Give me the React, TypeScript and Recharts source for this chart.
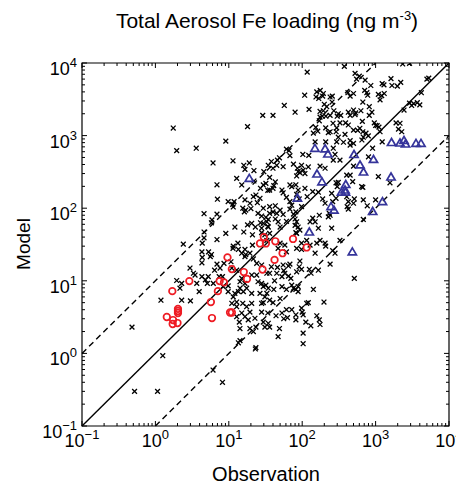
import React from "react";
import {
  ScatterChart,
  Scatter,
  XAxis,
  YAxis,
  ReferenceLine,
  ReferenceArea,
} from "recharts";

// [observation, model] in ng m-3
const blackPoints: [number, number][] = [
  [29, 1900], [1.75, 1270], [18, 1330], [1.95, 620], [3.6, 670], [9.1, 840], [6.1, 420], [11.4, 450],
  [16, 390], [19, 420], [22, 330], [6.9, 210], [32, 220], [27, 188], [34, 176], [7.0, 133], [9.8, 123],
  [11.8, 123], [11.5, 104], [24.5, 119], [16.3, 89], [17, 94], [20, 99], [4.6, 84], [6.9, 83], [5.9, 69],
  [32, 75], [18, 59], [20.5, 62], [27, 63], [29.5, 62], [12.1, 55], [9.1, 45], [6.9, 37], [4.6, 39],
  [4.35, 33], [2.4, 32], [16, 47], [21, 43], [23, 55], [28, 46], [34, 56],
  [117, 7500], [158, 4000], [176, 4200], [194, 3800], [190, 3500], [108, 3600], [57, 2600], [40, 1900],
  [80, 2100], [124, 2300], [175, 2150], [200, 2700], [194, 2200], [175, 1800], [188, 1850], [210, 1850],
  [153, 1300], [163, 1150], [142, 1080], [209, 1280], [227, 1100], [150, 820], [209, 820], [61, 650],
  [66, 620], [68, 530], [102, 550], [123, 535], [49, 495],
  [375, 9000], [2340, 9700], [2900, 9900], [525, 7200], [600, 6600], [550, 6000], [720, 5800],
  [1230, 5200], [1300, 5000], [1620, 6100], [1670, 4900], [2200, 5400], [860, 4900], [5000, 6000],
  [5300, 6200], [420, 3900], [500, 3800], [450, 3500], [257, 3500], [710, 4200], [760, 3900],
  [780, 3600], [1090, 3700], [1210, 3550], [1310, 3800], [1150, 3100], [4200, 3900], [670, 2900],
  [255, 2900], [2900, 2800], [3300, 2750], [3700, 2850], [270, 2200], [310, 2000], [335, 1900],
  [300, 1850], [425, 2100], [500, 2250], [535, 2050], [450, 1900], [525, 1950], [630, 2200], [820, 2500],
  [890, 2100], [820, 1900], [660, 1570], [263, 1480], [327, 1500], [390, 1500], [425, 1400], [960, 1500],
  [1000, 1380], [1900, 1500], [2150, 1480], [2050, 1230], [2270, 1130], [500, 1190], [570, 1180],
  [610, 1260], [670, 1130], [740, 1080], [795, 990], [680, 950], [650, 870], [1050, 1370], [1110, 1310],
  [1150, 1130], [240, 1130], [290, 1130], [310, 950], [295, 820], [365, 810], [450, 850], [500, 780],
  [450, 740], [265, 670], [280, 550], [910, 670], [1230, 820], [800, 510], [1980, 4800], [3100, 2600],
  [4000, 2650], [2440, 2250],
  [154, 3400], [168, 3250], [240, 3400], [216, 2500], [240, 1900], [171, 1600], [383, 1040], [295, 1280],
  [46, 460], [98, 390], [121, 370], [86, 355], [103, 335], [88, 318], [38, 440], [45, 390], [40, 355],
  [30, 318], [43, 230], [36, 178], [41, 205], [53, 178], [72, 198], [82, 210], [88, 178], [84, 155],
  [91, 134], [72, 110], [68, 97], [98, 105], [82, 89], [43, 108], [40, 89], [50, 94], [55, 82], [61, 66],
  [47, 65], [33, 65], [28, 53], [31, 43], [166, 166], [190, 134], [205, 117], [139, 73], [128, 65],
  [166, 53], [227, 76], [234, 85], [260, 123], [289, 137], [310, 227], [300, 198], [404, 144], [425, 123],
  [410, 105], [513, 134], [500, 117], [646, 198], [1090, 272],
  [16.6, 343], [34.5, 390], [55, 373], [12.8, 258], [22, 237], [15, 209], [40, 188], [55, 163],
  [29.5, 209], [36, 266], [76, 405], [93, 309], [109, 300], [84, 278], [68, 209], [109, 188], [139, 169],
  [117, 144], [68, 123], [61, 141], [175, 380], [205, 355], [16.6, 130], [19.4, 117], [15.5, 100],
  [21.6, 144], [26.6, 137], [23.4, 152], [29.5, 100], [36, 105], [36, 85], [43, 71], [34.5, 70], [28, 78],
  [25, 85], [45, 85], [50, 55], [76, 83], [80, 71], [84, 65], [80, 58], [88, 55], [93, 50], [84, 45],
  [150, 65], [171, 80], [11.5, 30], [13.5, 27], [16.6, 27], [17, 23], [19.4, 24], [34.5, 55], [36, 45],
  [33, 36], [84, 28], [98, 27], [158, 33], [175, 36], [205, 33], [50, 33], [58, 31], [47, 28], [61, 25],
  [265, 460], [327, 460], [500, 380], [404, 286], [450, 286], [487, 232], [289, 224], [670, 194],
  [1570, 224], [252, 160], [425, 97], [680, 130], [770, 108], [1000, 130], [252, 53], [680, 70], [327, 36],
  [260, 26], [280, 24], [240, 80],
  [82, 46], [98, 33], [115, 36], [128, 31], [150, 24], [209, 30], [240, 17], [166, 14], [125, 14.4],
  [132, 12.7], [68, 17], [93, 18.7], [91, 15.6], [98, 14.4], [84, 13.3], [55, 16.5], [56, 13.8], [58, 12.7],
  [53, 11.4], [45, 12.7], [46, 15.3], [38, 15.6], [36, 12.7], [65, 11.6], [70, 10.8], [76, 7.9], [82, 7.6],
  [88, 8.3], [53, 8.3], [61, 7.6], [41, 7.6], [42, 10], [32, 8.7], [142, 7.6], [121, 5.0], [198, 5.1],
  [29.5, 5], [28, 3.7], [34, 3.6], [44, 3.3], [53, 3.6], [61, 4.0], [56, 3.0], [63, 3.1], [82, 3.4],
  [82, 2.9], [100, 3.7], [103, 3.4], [112, 2.7], [131, 2.4], [158, 3.3], [171, 2.9], [36, 2.3], [49, 2.2],
  [47, 1.7], [103, 1.36], [513, 10.8],
  [11, 15], [12.8, 14], [15, 10.8], [14.2, 9.7], [16.6, 9.2], [17.5, 7.9], [15.8, 7.1], [13.5, 7.1],
  [12.1, 6.7], [24, 17.4], [28, 16.5], [33, 12.7], [24, 12], [20.5, 12], [25, 9.7], [28, 9.2], [29.5, 8.3],
  [34.5, 7.9], [33, 6.7], [26.6, 6.7], [20.5, 6.7], [12.8, 5.1], [11, 4.9], [15.5, 4.9], [17.5, 4.4],
  [20.5, 4.9], [28, 4.9], [19.4, 3.7], [15, 3.6], [16.6, 3.2], [12.8, 3.2], [18.4, 2.9], [22.7, 3.05],
  [29.5, 2.7], [34.5, 2.6], [13.9, 2.7], [14.2, 2.2], [19.4, 2.2], [21.6, 2.0], [23.4, 2.3], [14.2, 1.5],
  [13.5, 1.4], [23.4, 1.2], [65, 16], [36, 5.4], [40, 5.0], [50, 5.7], [72, 4.0], [98, 4.2], [115, 4.9],
  [72, 8.7], [88, 7.1], [175, 2.5], [103, 1.9],
  [4.6, 47], [21, 31], [5.3, 25], [5.8, 23], [4.35, 21], [6.9, 17], [8.6, 17.4], [11.4, 28], [15, 24],
  [16.6, 21.5], [21.6, 20], [3.3, 12.7], [4.3, 11.4], [4.8, 10.3], [5.1, 9.2], [6.4, 14], [7.4, 11.4],
  [3.66, 9.2], [3.95, 7.1], [1.95, 10.1], [2.28, 9.2], [1.19, 5.4], [2.28, 5.4], [3.0, 5.3], [0.48, 2.3],
  [1.26, 0.93], [0.52, 0.3], [1.07, 0.3], [8.2, 0.4], [6.1, 0.59], [23, 1.15], [8.4, 8.3], [9.8, 7.1],
  [11.5, 6.0], [14.2, 7.9], [31, 6.0], [12.8, 4.4], [31, 2.3],
  [11.3, 113], [5.8, 63], [4.3, 25], [5.6, 21.5], [13.3, 33], [10.7, 18.3], [2.96, 15], [4.3, 17.7],
  [3.47, 12], [5.25, 11.4], [6.15, 9.2], [7.6, 15], [8.2, 11.4], [9.8, 8.5], [2.16, 7.9],
];

const redPoints: [number, number][] = [
  [30, 40], [26.6, 32.7], [32, 32.7], [43, 35], [75, 37.7], [115, 28.8], [54, 24], [42, 19.4],
  [28.8, 14.3], [9.6, 21], [11, 14.5], [16, 13.2], [17.7, 10.6], [2.9, 9.9], [7.5, 9.9], [8.6, 9.5],
  [1.7, 7.2], [7.1, 7.2], [5.7, 5.1], [2.03, 4.1], [2.03, 3.84], [2.03, 3.6], [10.4, 3.66], [11, 3.66],
  [1.43, 3.17], [5.9, 3.07], [1.74, 2.88], [2.0, 2.62], [1.72, 2.54],
];

const bluePoints: [number, number][] = [
  [19, 258], [149, 668], [205, 658], [224, 558], [508, 549], [936, 469], [613, 394], [684, 315],
  [159, 296], [186, 230], [1622, 269], [1648, 803], [2150, 791], [2438, 857], [2555, 766], [3550, 783],
  [4155, 783], [392, 212], [383, 178], [343, 166], [389, 166], [86, 138], [247, 105], [271, 94],
  [1241, 123], [912, 90], [125, 47], [482, 25],
];

const majorTicks = [0.1, 1, 10, 100, 1000, 10000];
const tickExponents = ["\u22121", "0", "1", "2", "3", "4"];

// 1:1, 10:1 and 1:10 guide lines
const oneToOne = [{ x: 0.1, y: 0.1 }, { x: 10000, y: 10000 }];
const tenAbove = [{ x: 0.1, y: 1 }, { x: 1000, y: 10000 }];
const tenBelow = [{ x: 1, y: 0.1 }, { x: 10000, y: 1000 }];

const allTicks: number[] = [];
majorTicks.forEach((d, i) => {
  allTicks.push(d);
  if (i < majorTicks.length - 1) {
    for (let m = 2; m <= 9; m++) allTicks.push(Number((d * m).toPrecision(3)));
  }
});

const toRows = (pts: [number, number][]) => pts.map(([obs, model]) => ({ obs, model }));

const FONT = "'Liberation Sans', Arial, Helvetica, sans-serif";
const PLOT_LEFT = 74;
const PLOT_TOP = 55;
const PLOT_RIGHT = 441;
const PLOT_BOTTOM = 418;

const XTick = (props: any) => {
  const { x, payload } = props;
  const idx = majorTicks.indexOf(payload.value);
  const len = idx >= 0 ? 5 : 3;
  return (
    <g>
      <line x1={x} x2={x} y1={PLOT_BOTTOM} y2={PLOT_BOTTOM - len} stroke="#000" />
      <line x1={x} x2={x} y1={PLOT_TOP} y2={PLOT_TOP + len} stroke="#000" />
      {idx >= 0 && (
        <text x={x} y={PLOT_BOTTOM + 21} textAnchor="middle" fontSize={18} fontFamily={FONT} fill="#000">
          10
          <tspan dy={-8} fontSize={13}>{tickExponents[idx]}</tspan>
        </text>
      )}
    </g>
  );
};

const YTick = (props: any) => {
  const { y, payload } = props;
  const idx = majorTicks.indexOf(payload.value);
  const len = idx >= 0 ? 5 : 3;
  return (
    <g>
      <line x1={PLOT_LEFT} x2={PLOT_LEFT + len} y1={y} y2={y} stroke="#000" />
      <line x1={PLOT_RIGHT} x2={PLOT_RIGHT - len} y1={y} y2={y} stroke="#000" />
      {idx >= 0 && (
        <text x={PLOT_LEFT - 5} y={y + 12} textAnchor="end" fontSize={18} fontFamily={FONT} fill="#000">
          10
          <tspan dy={-8} fontSize={13}>{tickExponents[idx]}</tspan>
        </text>
      )}
    </g>
  );
};

const Cross = (props: any) => {
  const { cx, cy } = props;
  const s = 2.4;
  return (
    <path
      d={`M${cx - s},${cy - s}L${cx + s},${cy + s}M${cx - s},${cy + s}L${cx + s},${cy - s}`}
      stroke="#000"
      strokeWidth={1.3}
      fill="none"
    />
  );
};

const Circle = (props: any) => (
  <circle cx={props.cx} cy={props.cy} r={3.3} stroke="#ee1c24" strokeWidth={1.7} fill="none" />
);

const Triangle = (props: any) => {
  const { cx, cy } = props;
  return (
    <path
      d={`M${cx},${cy - 4}L${cx + 4.1},${cy + 3}L${cx - 4.1},${cy + 3}Z`}
      stroke="#35349a"
      strokeWidth={1.7}
      fill="none"
    />
  );
};

export default function App() {
  return (
    <div style={{ position: "relative", width: 456, height: 476 }}>
      <ScatterChart
        width={456}
        height={470}
        margin={{ top: 55, right: 15, bottom: 22, left: 14 }}
      >
        <XAxis
          type="number"
          dataKey="obs"
          scale="log"
          domain={[0.1, 10000]}
          allowDataOverflow
          ticks={allTicks}
          interval={0}
          tick={<XTick />}
          tickLine={false}
          axisLine={false}
          height={30}
        />
        <YAxis
          type="number"
          dataKey="model"
          scale="log"
          domain={[0.1, 10000]}
          allowDataOverflow
          ticks={allTicks}
          interval={0}
          tick={<YTick />}
          tickLine={false}
          axisLine={false}
          width={60}
        />
        <ReferenceArea x1={0.1} x2={10000} y1={0.1} y2={10000} fill="none" stroke="#000" strokeWidth={1.2} />
        <Scatter data={toRows(blackPoints)} shape={<Cross />} isAnimationActive={false} />
        <Scatter data={toRows(redPoints)} shape={<Circle />} isAnimationActive={false} />
        <Scatter data={toRows(bluePoints)} shape={<Triangle />} isAnimationActive={false} />
        <ReferenceLine segment={oneToOne} stroke="#000" strokeWidth={1.4} />
        <ReferenceLine segment={tenAbove} stroke="#000" strokeWidth={1.4} strokeDasharray="6 4" />
        <ReferenceLine segment={tenBelow} stroke="#000" strokeWidth={1.4} strokeDasharray="6 4" />
      </ScatterChart>
      <svg
        width={456}
        height={476}
        style={{ position: "absolute", left: 0, top: 0, pointerEvents: "none" }}
      >
        <text x={259} y={20} textAnchor="middle" fontSize={21} fontFamily={FONT} fill="#000">
          Total Aerosol Fe loading (ng m
          <tspan dy={-8} fontSize={13}>-3</tspan>
          <tspan dy={8}>)</tspan>
        </text>
        <text x={258} y={473} textAnchor="middle" fontSize={20} fontFamily={FONT} fill="#000">
          Observation
        </text>
        <text
          transform="translate(22,236) rotate(-90)"
          textAnchor="middle"
          fontSize={19}
          fontFamily={FONT}
          fill="#000"
        >
          Model
        </text>
      </svg>
    </div>
  );
}
